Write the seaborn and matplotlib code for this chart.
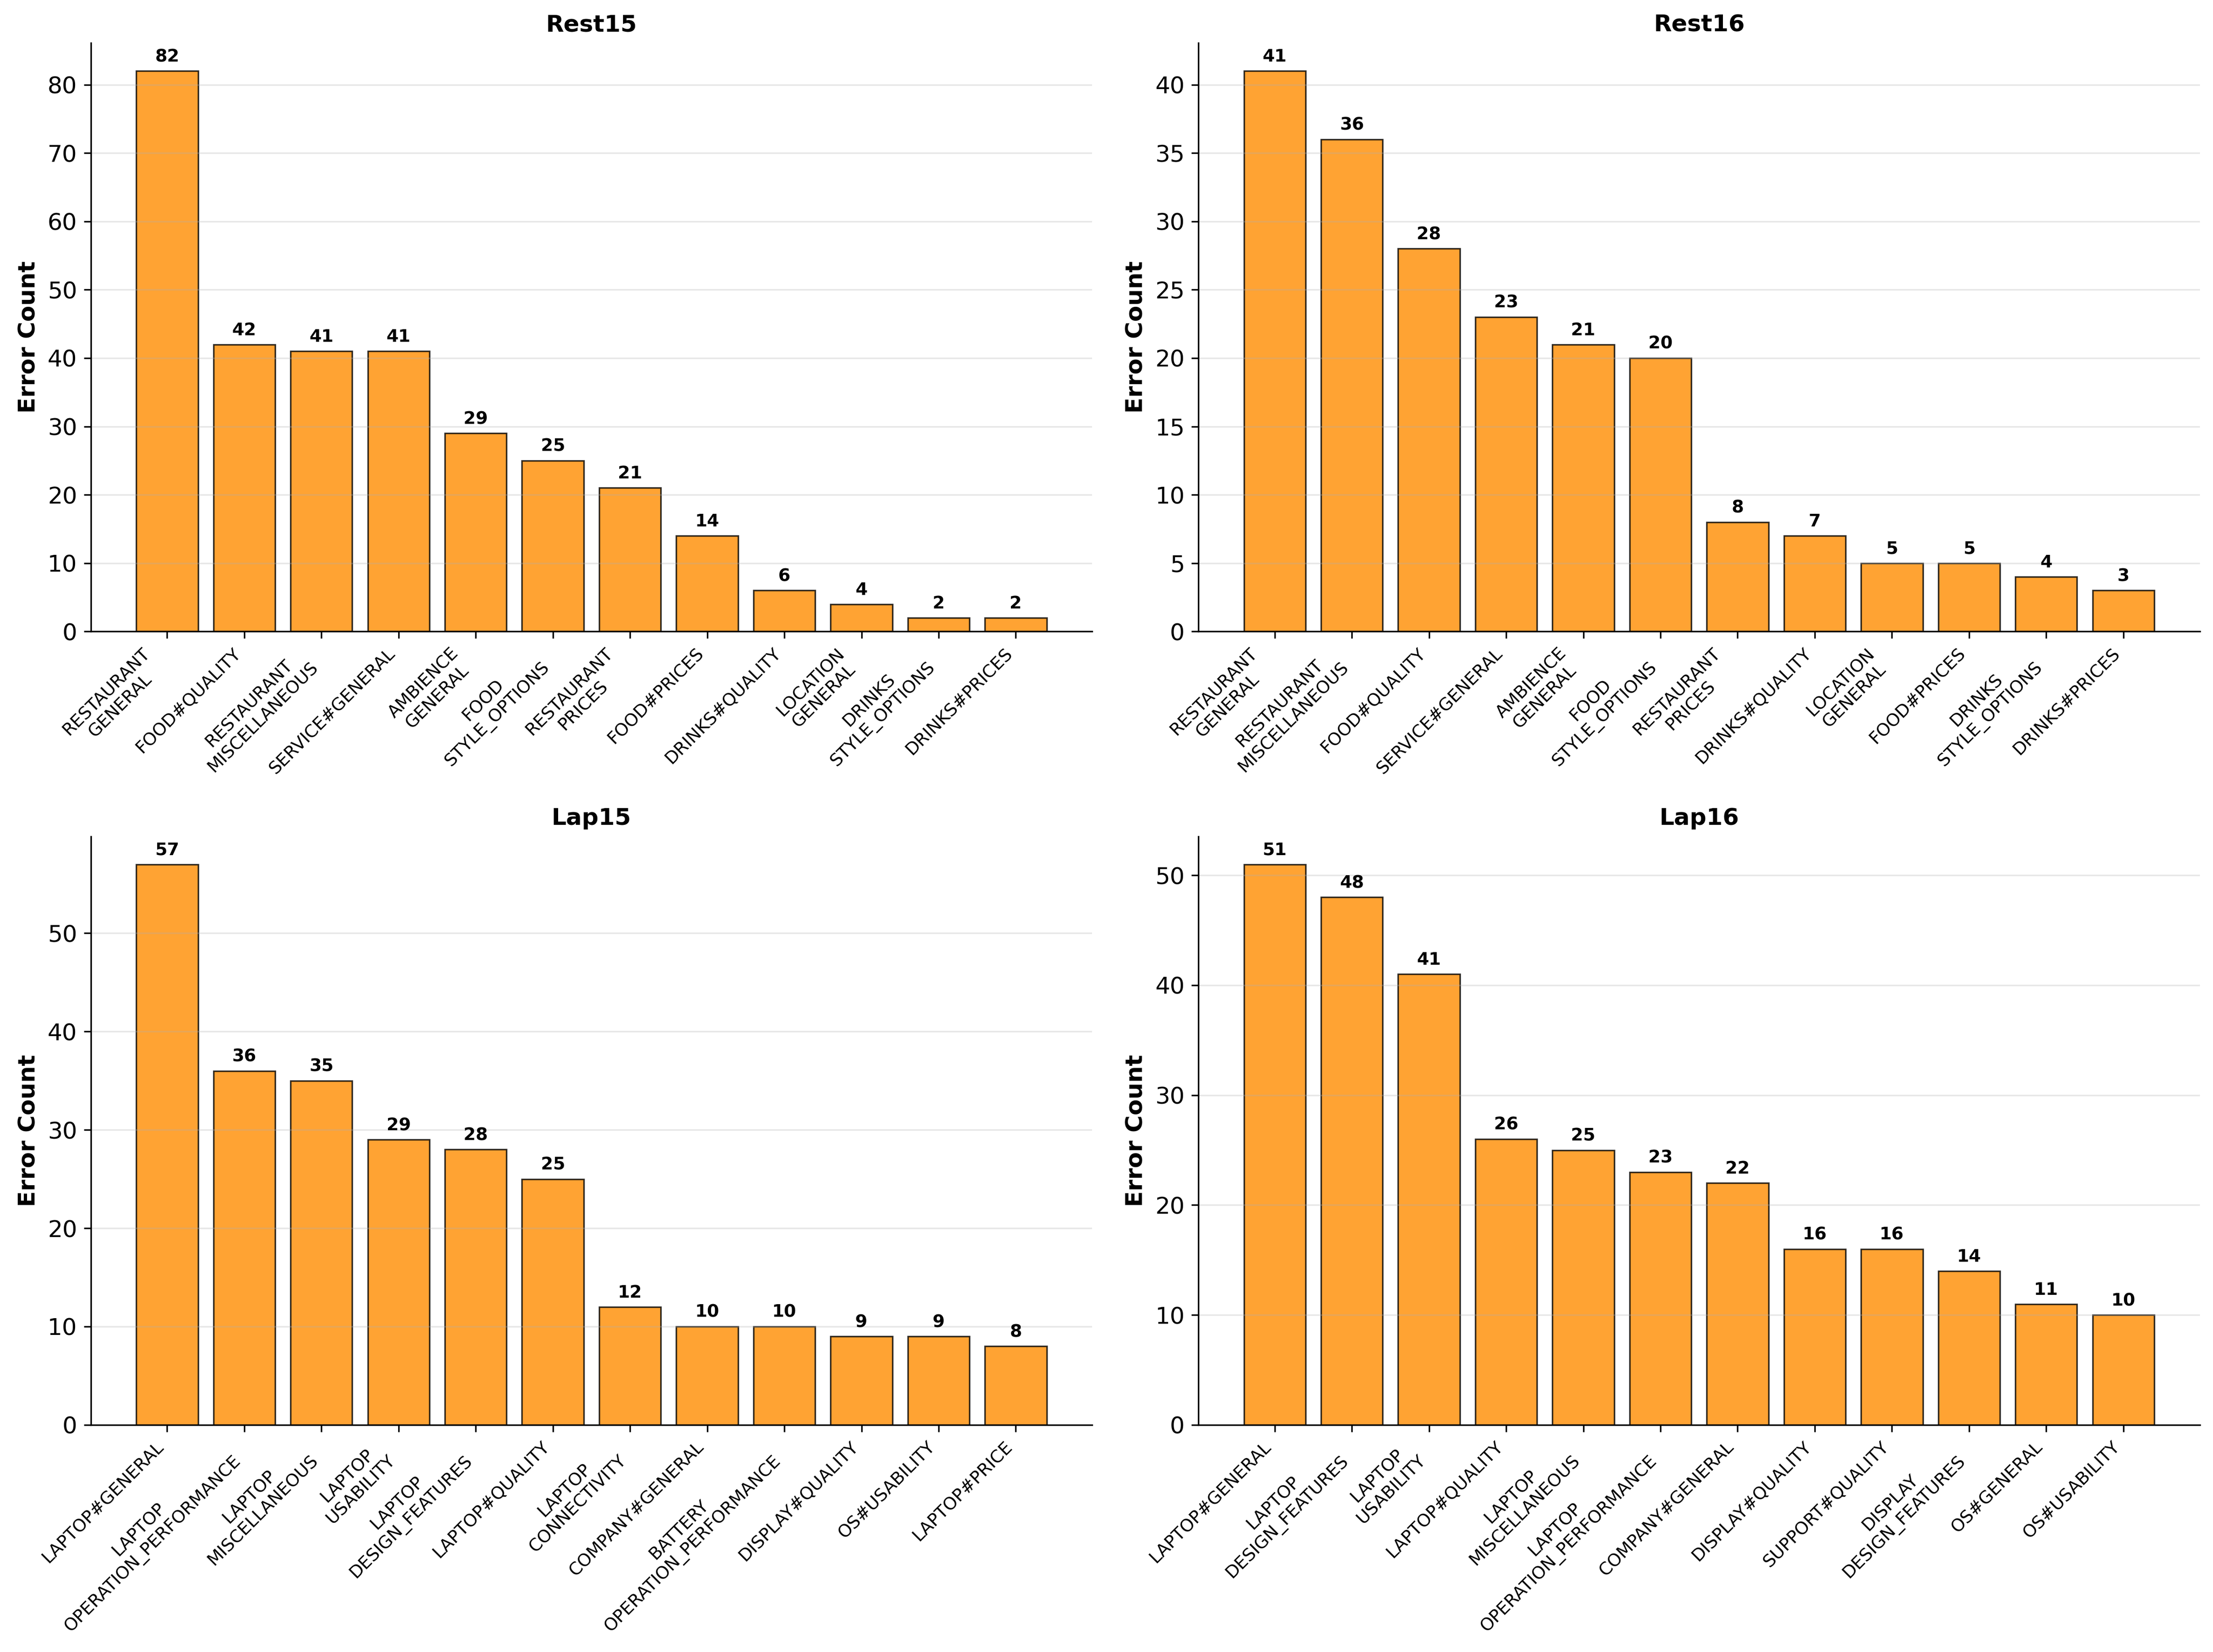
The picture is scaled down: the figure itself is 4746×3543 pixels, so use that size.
import matplotlib
matplotlib.use("Agg")
import matplotlib.pyplot as plt
import seaborn as sns
import pandas as pd

# -------- data --------
rest15_labels = ["RESTAURANT\nGENERAL", "FOOD#QUALITY", "RESTAURANT\nMISCELLANEOUS",
                 "SERVICE#GENERAL", "AMBIENCE\nGENERAL", "FOOD\nSTYLE_OPTIONS",
                 "RESTAURANT\nPRICES", "FOOD#PRICES", "DRINKS#QUALITY",
                 "LOCATION\nGENERAL", "DRINKS\nSTYLE_OPTIONS", "DRINKS#PRICES"]
rest15_counts = [82, 42, 41, 41, 29, 25, 21, 14, 6, 4, 2, 2]

rest16_labels = ["RESTAURANT\nGENERAL", "RESTAURANT\nMISCELLANEOUS", "FOOD#QUALITY",
                 "SERVICE#GENERAL", "AMBIENCE\nGENERAL", "FOOD\nSTYLE_OPTIONS",
                 "RESTAURANT\nPRICES", "DRINKS#QUALITY", "LOCATION\nGENERAL",
                 "FOOD#PRICES", "DRINKS\nSTYLE_OPTIONS", "DRINKS#PRICES"]
rest16_counts = [41, 36, 28, 23, 21, 20, 8, 7, 5, 5, 4, 3]

lap15_labels = ["LAPTOP#GENERAL", "LAPTOP\nOPERATION_PERFORMANCE", "LAPTOP\nMISCELLANEOUS",
                "LAPTOP\nUSABILITY", "LAPTOP\nDESIGN_FEATURES", "LAPTOP#QUALITY",
                "LAPTOP\nCONNECTIVITY", "COMPANY#GENERAL", "BATTERY\nOPERATION_PERFORMANCE",
                "DISPLAY#QUALITY", "OS#USABILITY", "LAPTOP#PRICE"]
lap15_counts = [57, 36, 35, 29, 28, 25, 12, 10, 10, 9, 9, 8]

lap16_labels = ["LAPTOP#GENERAL", "LAPTOP\nDESIGN_FEATURES", "LAPTOP\nUSABILITY",
                "LAPTOP#QUALITY", "LAPTOP\nMISCELLANEOUS", "LAPTOP\nOPERATION_PERFORMANCE",
                "COMPANY#GENERAL", "DISPLAY#QUALITY", "SUPPORT#QUALITY",
                "DISPLAY\nDESIGN_FEATURES", "OS#GENERAL", "OS#USABILITY"]
lap16_counts = [51, 48, 41, 26, 25, 23, 22, 16, 16, 14, 11, 10]

datasets = [("Rest15", rest15_labels, rest15_counts),
            ("Rest16", rest16_labels, rest16_counts),
            ("Lap15", lap15_labels, lap15_counts),
            ("Lap16", lap16_labels, lap16_counts)]

plt.rcParams['font.family'] = ['DejaVu Sans']

fig, axes = plt.subplots(2, 2, figsize=(15.82, 11.81), dpi=300)
fig.subplots_adjust(left=0.041, right=0.994, top=0.974, bottom=0.1375,
                    wspace=0.106, hspace=0.348)

for ax, (name, labels, counts) in zip(axes.flat, datasets):
    df = pd.DataFrame({"aspect": labels, "count": counts})
    sns.barplot(data=df, x="aspect", y="count", ax=ax, color="darkorange",
                saturation=1, alpha=0.8, edgecolor="black", linewidth=0.8,
                width=0.8, order=labels)
    # plain matplotlib-style x margins instead of seaborn's tight category limits
    ax.autoscale(enable=True, axis="x")
    ax.margins(x=0.05)
    top = max(counts)
    ax.set_ylim(0, top * 1.05)
    for i, c in enumerate(counts):
        ax.text(i, c + top * 0.01, str(c), ha="center", va="bottom",
                fontsize=9, fontweight="bold")
    ax.set_title(name, fontsize=12, fontweight="bold")
    ax.set_xlabel("")
    ax.set_ylabel("Error Count", fontsize=12, fontweight="bold")
    ax.tick_params(axis="y", labelsize=12)
    ax.set_xticks(range(len(labels)))
    ax.set_xticklabels(labels, rotation=45, ha="right", fontsize=9)
    for t in ax.get_xticklabels():
        t.set_multialignment("center")
    ax.grid(axis="y", alpha=0.3)
    sns.despine(ax=ax)

fig.savefig("out.png", dpi=300)
